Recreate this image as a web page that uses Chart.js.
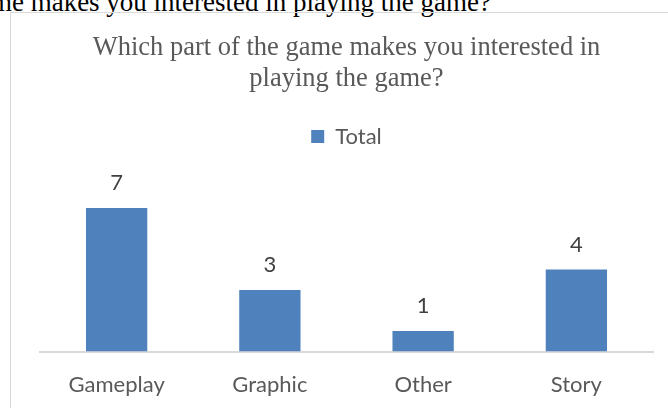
<!DOCTYPE html>
<html>
<head>
<meta charset="utf-8">
<script src="https://cdn.jsdelivr.net/npm/chart.js@4"></script>
<style>
  html, body { margin: 0; padding: 0; background: #fff; overflow: hidden; }
  body { position: relative; width: 668px; height: 408px; }
  .caption {
    position: absolute; right: 177px; top: -11px;
    font: 27px/27px "Liberation Serif", "Times New Roman", serif;
    color: #000; white-space: nowrap;
  }
  .frame {
    position: absolute; left: 10px; top: 12px; width: 720px; height: 440px;
    border-left: 1px solid #d9d9d9; border-top: 1px solid #d9d9d9;
  }
  #chart { position: absolute; left: 0; top: 0; }
</style>
</head>
<body>
<div class="caption">Which part of the game makes you interested in playing the game?</div>
<div class="frame"></div>
<canvas id="chart" width="668" height="408"></canvas>
<script>
'use strict';
const categories = ['Gameplay', 'Graphic', 'Other', 'Story'];
const totals     = [7, 3, 1, 4];
const titleLines = ['Which part of the game makes you interested in', 'playing the game?'];

const SANS = 'Lato, "Open Sans", sans-serif';

// value above each bar, placed from the bar element itself
const valueLabels = {
  id: 'valueLabels',
  afterDatasetsDraw(chart) {
    const ctx = chart.ctx;
    ctx.save();
    ctx.font = '22px ' + SANS;
    ctx.fillStyle = '#404040';
    ctx.textAlign = 'center';
    ctx.textBaseline = 'middle';
    chart.getDatasetMeta(0).data.forEach((bar, i) => {
      ctx.fillText(String(totals[i]), bar.x, bar.y - 25);
    });
    ctx.restore();
  },
};

// extra room between legend and plot
const legendGap = {
  id: 'legendGap',
  beforeInit(chart) {
    const fit = chart.legend.fit;
    chart.legend.fit = function () { fit.call(this); this.height += 30; };
  },
};

new Chart(document.getElementById('chart'), {
  type: 'bar',
  data: {
    labels: categories,
    datasets: [{
      label: 'Total',
      data: totals,
      backgroundColor: '#4f81bd',
      borderWidth: 0,
      barPercentage: 0.4,
      categoryPercentage: 1,
    }],
  },
  options: {
    responsive: false,
    animation: false,
    layout: { padding: { left: 40, right: 15, top: 0, bottom: 10 } },
    plugins: {
      title: {
        display: true,
        text: titleLines,
        color: '#595959',
        font: { family: '"Liberation Serif", "Times New Roman", serif', size: 26.5, weight: 'normal', lineHeight: 1.18 },
        padding: { top: 32, bottom: 21 },
      },
      legend: {
        display: true,
        labels: {
          color: '#595959',
          boxWidth: 13,
          boxHeight: 13,
          font: { family: SANS, size: 22 },
        },
      },
      tooltip: { enabled: false },
    },
    scales: {
      x: {
        grid: { display: false, tickLength: 20 },
        border: { display: true, color: '#d9d9d9', width: 2 },
        ticks: { color: '#595959', padding: 0, font: { family: SANS, size: 22 } },
      },
      y: {
        display: false,
        min: 0,
        max: 8,
      },
    },
  },
  plugins: [valueLabels, legendGap],
});
</script>
</body>
</html>
